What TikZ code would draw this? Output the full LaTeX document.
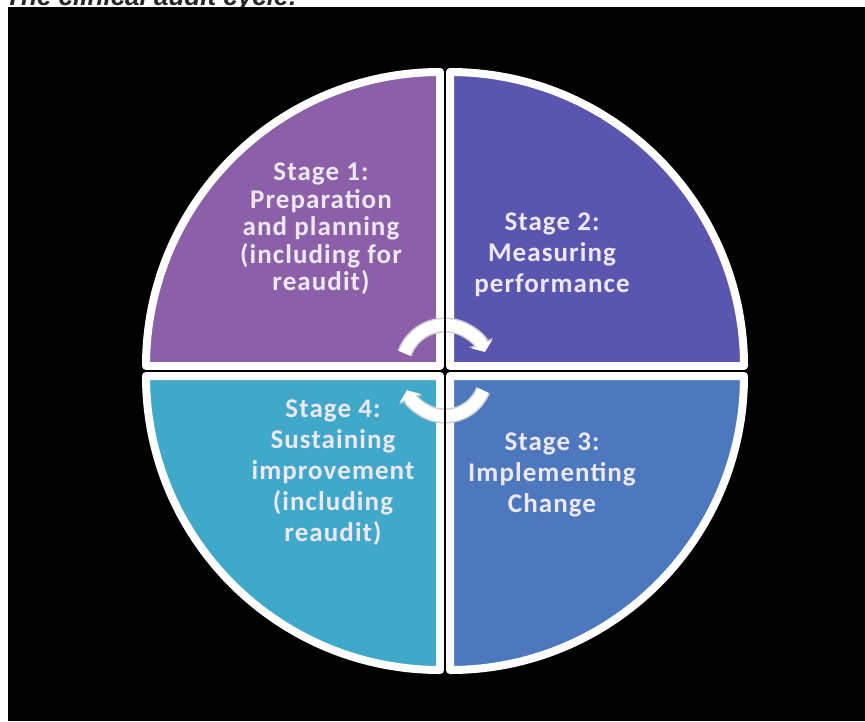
\documentclass[tikz,border=0pt]{standalone}
\usepackage{fontspec}
\usepackage{tikz}
\usetikzlibrary{arrows.meta}
\usetikzlibrary{calc}
\newfontfamily\stagefont[LetterSpace=4]{Carlito}
\newfontfamily\titlefont{Liberation Sans}
\definecolor{stageone}{RGB}{140,96,168}
\definecolor{stagetwo}{RGB}{90,86,176}
\definecolor{stagethree}{RGB}{78,120,190}
\definecolor{stagefour}{RGB}{64,168,200}
\definecolor{stagetext}{RGB}{236,232,244}
\definecolor{cycleedge}{RGB}{205,205,210}

\begin{document}
\begin{tikzpicture}[x=1pt,y=-1pt,line join=round,semithick]
  \tikzstyle{quarter}=[draw=white,line width=8pt]
  \tikzstyle{label}=[text=stagetext,align=center,inner sep=0pt,font=\stagefont\bfseries\fontsize{27}{31}\selectfont]
  \tikzstyle{cycle edge}=[draw=cycleedge,line width=15pt,-{Triangle[width=25pt,length=10pt]}]
  \tikzstyle{cycle arrow}=[draw=white,line width=12pt,-{Triangle[width=21pt,length=8pt]}]

  \clip (0,0) rectangle (865,721);
  \fill[white] (0,0) rectangle (865,721);
  \node[anchor=base west,inner sep=0pt,text=black!85,font=\titlefont\bfseries\itshape\fontsize{26}{30}\selectfont] (title) at (5,5) {The clinical audit cycle:};
  \fill[black] (8,7) rectangle (865,721);

  \coordinate (c) at (445,371);
  \coordinate (top) at (445,60);
  \coordinate (bot) at (445,684);
  \coordinate (lft) at (135,371);
  \coordinate (rgt) at (758,371);

  % four quarters
  \path[quarter,fill=stageone]   ($(c)+(-5,-5)$) -- ++(-294,0) arc[start angle=180,end angle=270,radius=294] -- cycle;
  \path[quarter,fill=stagetwo]   ($(c)+(5,-5)$)  -- ++(294,0)  arc[start angle=0,end angle=-90,radius=294] -- cycle;
  \path[quarter,fill=stagethree] ($(c)+(5,5)$)   -- ++(294,0)  arc[start angle=0,end angle=90,radius=294] -- cycle;
  \path[quarter,fill=stagefour]  ($(c)+(-5,5)$)  -- ++(-294,0) arc[start angle=180,end angle=90,radius=294] -- cycle;

  % cycle arrows in the middle
  \coordinate (up) at ($(c)+(0,-3)$);
  \coordinate (dn) at ($(c)+(0,4)$);
  \draw[cycle edge]  ($(up)+(-160:43)$) arc[start angle=-160,end angle=-22,radius=43];
  \draw[cycle arrow] ($(up)+(-160:43)$) arc[start angle=-160,end angle=-22,radius=43];
  \draw[cycle edge]  ($(dn)+(22:41)$) arc[start angle=22,end angle=158,radius=41];
  \draw[cycle arrow] ($(dn)+(22:41)$) arc[start angle=22,end angle=158,radius=41];

  \draw[black,line width=2pt] (top) -- (bot);
  \draw[black,line width=2pt] (lft) -- (rgt);

  \node[label,font=\stagefont\bfseries\fontsize{27}{27.5}\selectfont] (s1) at (321,229) {Stage 1:\\Preparation\\and planning\\(including for\\reaudit)};
  \node[label] (s2) at (552,255) {Stage 2:\\Measuring\\performance};
  \node[label] (s3) at (552,475) {Stage 3:\\Implementing\\Change};
  \node[label] (s4) at (333,473) {Stage 4:\\Sustaining\\improvement\\(including\\reaudit)};
\end{tikzpicture}
\end{document}
